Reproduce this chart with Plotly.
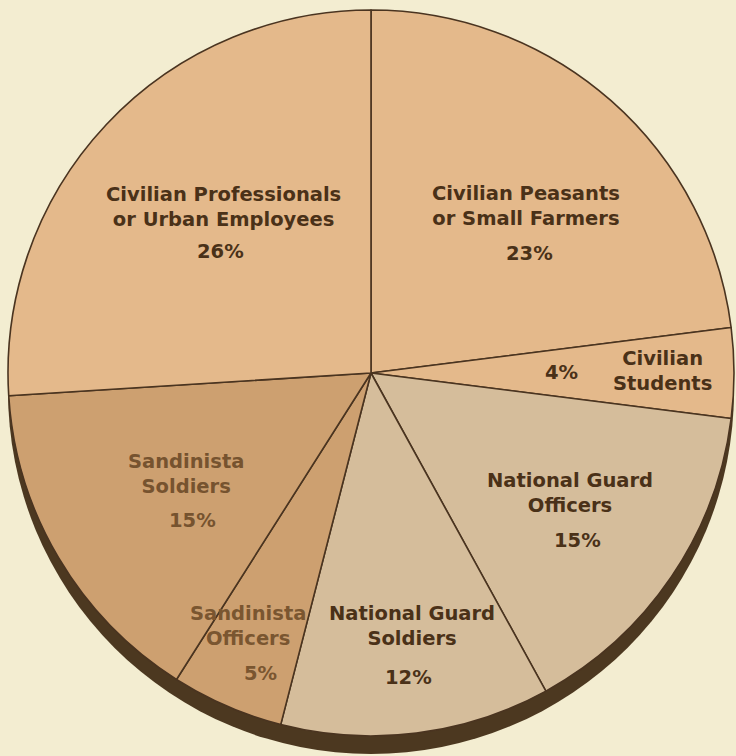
import plotly.graph_objects as go

# ---- data ----
categories = [
    "Civilian Peasants<br>or Small Farmers",
    "Civilian<br>Students",
    "National Guard<br>Officers",
    "National Guard<br>Soldiers",
    "Sandinista<br>Officers",
    "Sandinista<br>Soldiers",
    "Civilian Professionals<br>or Urban Employees",
]
values = [23, 4, 15, 12, 5, 15, 26]
pct_labels = [f"{v}%" for v in values]

# ---- styling ----
W, H = 736, 756
bg = "#F3EDD1"
slice_colors = ["#E4B98B", "#E4B98B", "#D5BD9B", "#D5BD9B", "#CDA070", "#CDA070", "#E4B98B"]
text_colors = ["#4A3118", "#4A3118", "#4A3118", "#4A3118", "#7A5630", "#76532F", "#4A3118"]
edge = "#4A3420"
rim = "#4C3820"

cx, cy, r = 371, 373, 363
rim_drop = 18

def px_domain(cxp, cyp, rad):
    return dict(x=[(cxp - rad) / W, (cxp + rad) / W],
                y=[(H - cyp - rad) / H, (H - cyp + rad) / H])

fig = go.Figure()
# 3D rim (drawn first, behind)
fig.add_trace(go.Pie(
    values=[1], labels=["rim"], marker=dict(colors=[rim], line=dict(color=rim, width=0)),
    textinfo="none", hoverinfo="skip", sort=False, showlegend=False,
    domain=px_domain(cx, cy + rim_drop, r),
))
# pie face
fig.add_trace(go.Pie(
    values=values, labels=categories,
    marker=dict(colors=slice_colors, line=dict(color=edge, width=1.6)),
    textinfo="none", sort=False, direction="clockwise", rotation=0,
    showlegend=False, domain=px_domain(cx, cy, r),
))

# label positions (pixel centers) for names and percentages
name_pos = [(526, 206), (662, 371), (570, 493), (412, 626), (248, 626), (186, 474), (223, 207)]
pct_pos = [(529, 253), (561, 372), (577, 540), (408, 677), (260, 673), (192, 520), (220, 252)]

font_family = "DejaVu Sans"
fsize = 19.5
for name, pct, (nx, ny), (qx, qy), col in zip(categories, pct_labels, name_pos, pct_pos, text_colors):
    fig.add_annotation(x=nx / W, y=1 - ny / H, xref="paper", yref="paper", text=name,
                       showarrow=False, align="center", xanchor="center", yanchor="middle",
                       font=dict(family=font_family, size=fsize, color=col, weight="bold"))
    fig.add_annotation(x=qx / W, y=1 - qy / H, xref="paper", yref="paper", text=pct,
                       showarrow=False, xanchor="center", yanchor="middle",
                       font=dict(family=font_family, size=fsize, color=col, weight="bold"))

fig.update_layout(
    width=W, height=H, margin=dict(l=0, r=0, t=0, b=0),
    paper_bgcolor=bg, plot_bgcolor=bg,
)
fig.write_html(
    "out.html",
    config={"displayModeBar": False},
    post_script=f"document.body.style.margin='0';document.body.style.background='{bg}';",
)
